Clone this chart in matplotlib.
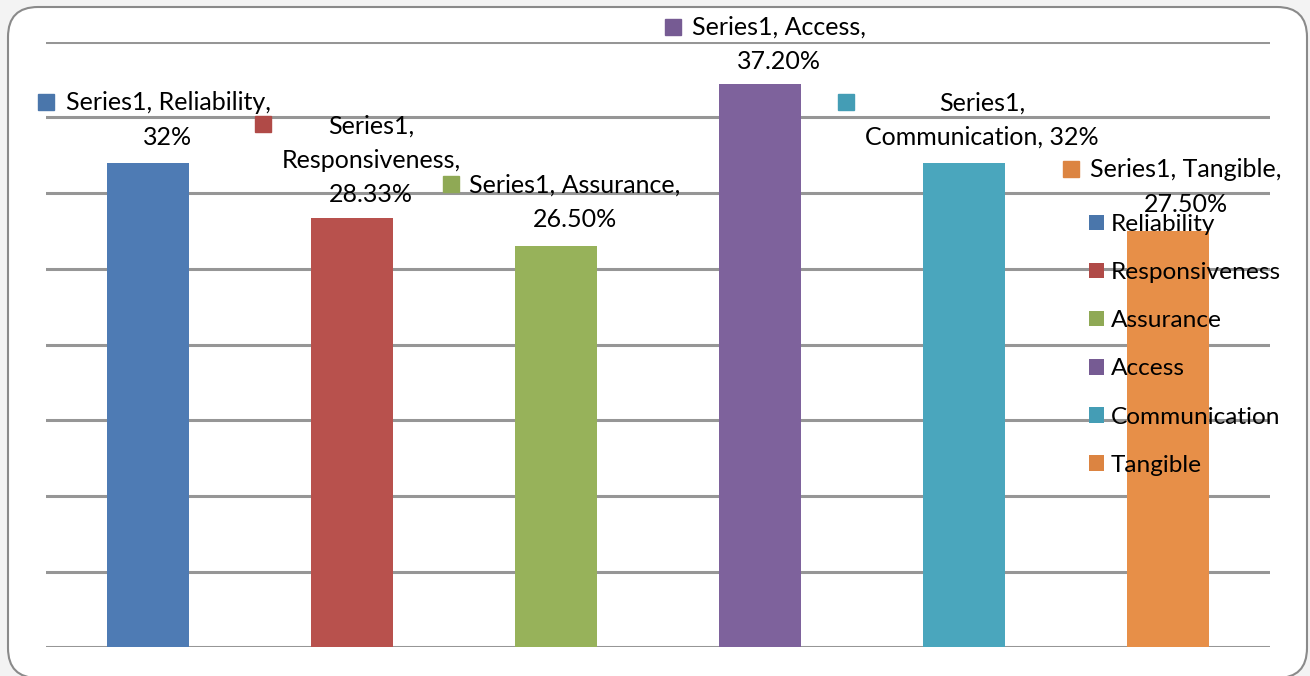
import matplotlib
matplotlib.use("Agg")
import matplotlib.pyplot as plt
from matplotlib.patches import FancyBboxPatch, Patch
from matplotlib.transforms import IdentityTransform, ScaledTranslation

plt.rcParams['font.family'] = ['Lato', 'DejaVu Sans']

# data
categories = ['Reliability', 'Responsiveness', 'Assurance', 'Access', 'Communication', 'Tangible']
values = [32, 28.33, 26.5, 37.2, 32, 27.5]
bar_colors = ['#4e7bb4', '#b8514d', '#97b25a', '#7e629c', '#4aa6bd', '#e78f48']
key_colors = ['#4a76ab', '#b04a47', '#8fa955', '#765b93', '#449db5', '#dc8441']

# label text as laid out in the chart (line breaks from the picture)
label_lines = [
    'Series1, Reliability,\n32%',
    'Series1,\nResponsiveness,\n28.33%',
    'Series1, Assurance,\n26.50%',
    'Series1, Access,\n37.20%',
    'Series1,\nCommunication, 32%',
    'Series1, Tangible,\n27.50%',
]
# offsets (pixels) of text block centre and key square from bar top centre
text_off = [(20, 43), (19, 58), (19, 44), (19, 40), (18, 43), (18, 44)]
key_off = [(-102, 61), (-89, 94), (-105, 62), (-87, 57), (-118, 61), (-97, 62)]

W, H = 1310, 676
fig = plt.figure(figsize=(W / 100, H / 100), dpi=100)
fig.patch.set_facecolor('#f3f3f3')

# rounded chart frame
frame = FancyBboxPatch((8, -2), 1299, H - 5, boxstyle='round,pad=0,rounding_size=30',
                       transform=IdentityTransform(), facecolor='white',
                       edgecolor='#8a8a8a', linewidth=1.5, zorder=-5)
fig.patches.append(frame)

ax = fig.add_axes([46 / W, (H - 647.3) / H, (1270 - 46) / W, (647.3 - 41.7) / H])
ax.set_zorder(1)
ax.set_facecolor('none')
x = range(len(categories))
ax.bar(x, values, width=0.4, color=bar_colors, zorder=2)
ax.set_xlim(-0.5, len(categories) - 0.5)
ax.set_ylim(0, 40)
for yv in range(0, 41, 5):
    ax.axhline(yv, color='#969696', linewidth=2.2, zorder=1)
for s in ax.spines.values():
    s.set_visible(False)
ax.set_xticks([])
ax.set_yticks([])

fs = 18
for i, v in enumerate(values):
    tdx, tdy = text_off[i]
    ax.annotate(label_lines[i], (i, v), xytext=(tdx, tdy), textcoords='offset pixels',
                ha='center', va='center', fontsize=fs, linespacing=1.6,
                color='black', zorder=5, annotation_clip=False)
    kdx, kdy = key_off[i]
    ax.plot([i], [v], marker='s', markersize=11, color=key_colors[i],
            transform=ax.transData + ScaledTranslation(kdx / 100, kdy / 100, fig.dpi_scale_trans),
            clip_on=False, zorder=5)

handles = [Patch(facecolor=key_colors[i], label=categories[i]) for i in range(len(categories))]
ax.legend(handles=handles, loc='upper left', bbox_to_anchor=(1089 / W, (H - 214) / H),
          bbox_transform=fig.transFigure, frameon=False, fontsize=17.6,
          handlelength=0.6, handleheight=0.6, handletextpad=0.28,
          labelspacing=1.11, borderpad=0, borderaxespad=0)

fig.savefig('out.png', dpi=100, facecolor=fig.get_facecolor())
